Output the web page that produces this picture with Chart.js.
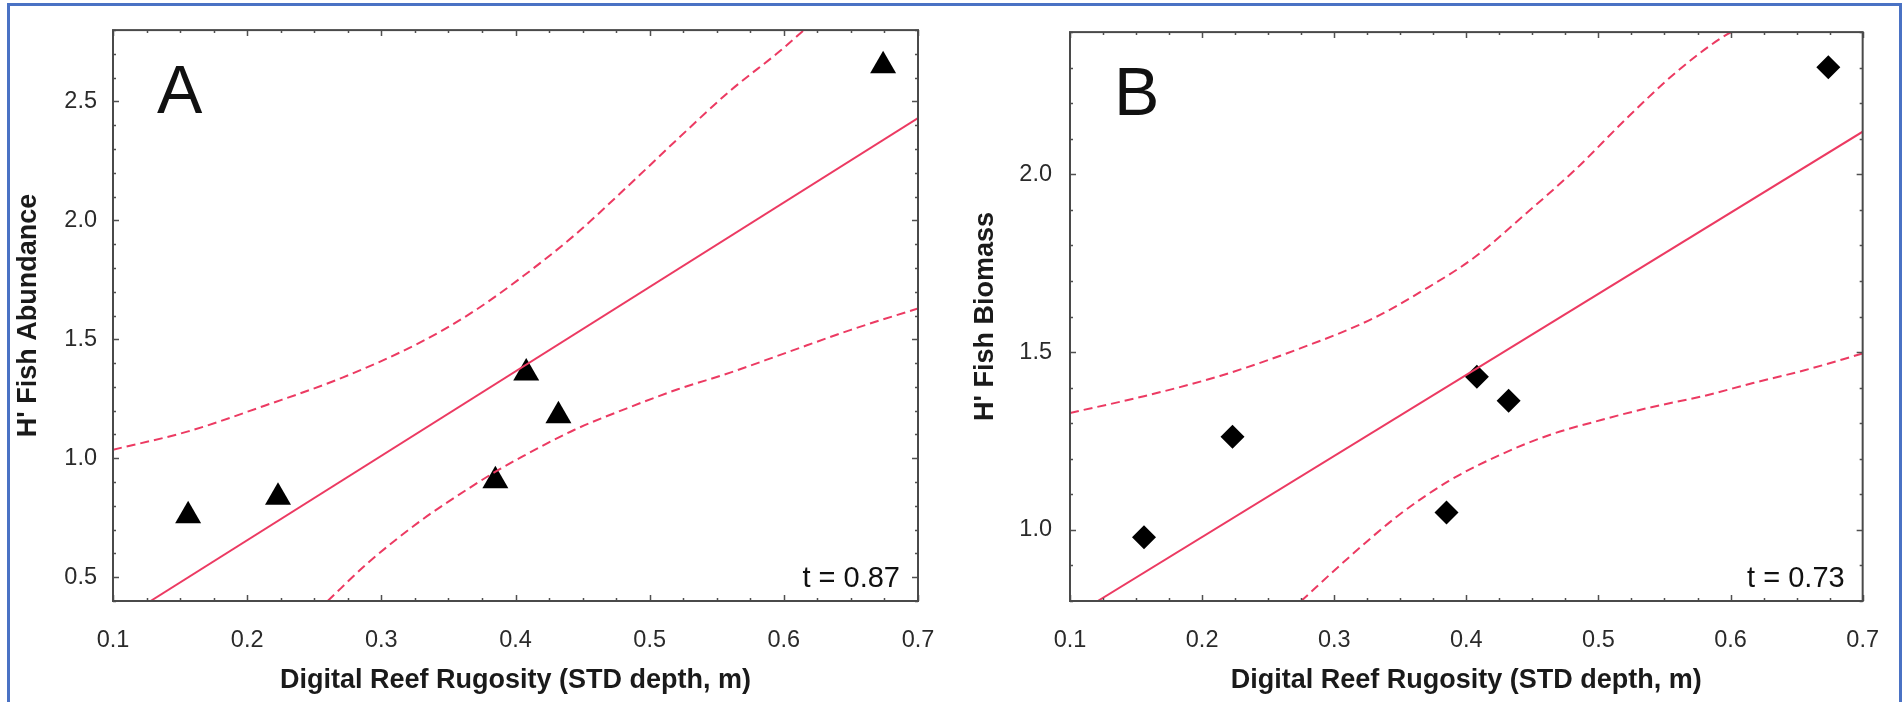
<!DOCTYPE html>
<html>
<head>
<meta charset="utf-8">
<script src="https://cdn.jsdelivr.net/npm/chart.js@4.4.1/dist/chart.umd.min.js"></script>
<style>
  html, body { margin: 0; padding: 0; background: #fff; }
  body { width: 1904px; height: 702px; position: relative; overflow: hidden; }
  #frame { position: absolute; left: 7px; top: 3px; width: 1889px; height: 760px; border: 3px solid #4a72c4; }
  canvas { position: absolute; top: 0; }
  #chartA { left: 0; }
  #chartB { left: 960px; }
</style>
</head>
<body>
<div id="frame"></div>
<canvas id="chartA" width="960" height="702"></canvas>
<canvas id="chartB" width="944" height="702"></canvas>
<script>
// sites: digital reef rugosity (STD depth, m)
const rugosity   = [0.156, 0.223, 0.385, 0.408, 0.432, 0.674];
const abundanceH = [0.758, 0.836, 0.906, 1.358, 1.179, 2.650];
const biomassH   = [0.979, 1.262, 1.049, 1.431, 1.363, 2.301];

// fitted lines
const fitAx = [0.128, 0.7];
const fitAy = [0.4, 2.43];
const fitBx = [0.121, 0.7];
const fitBy = [0.8, 2.12];

// confidence bands
const upperAx = [0.1, 0.156, 0.2135, 0.271, 0.329, 0.367, 0.406, 0.444, 0.483, 0.521, 0.56, 0.598, 0.615];
const upperAy = [1.036, 1.113, 1.222, 1.339, 1.487, 1.611, 1.767, 1.938, 2.14, 2.343, 2.545, 2.716, 2.8];
const lowerAx = [0.26, 0.29, 0.33, 0.367, 0.387, 0.406, 0.444, 0.483, 0.521, 0.56, 0.6, 0.65, 0.7];
const lowerAy = [0.4, 0.56, 0.74, 0.88, 0.95, 1.01, 1.12, 1.21, 1.29, 1.36, 1.44, 1.54, 1.63];
const upperBx = [0.1, 0.156, 0.2135, 0.271, 0.329, 0.367, 0.406, 0.444, 0.483, 0.521, 0.56, 0.598, 0.601];
const upperBy = [1.329, 1.376, 1.433, 1.506, 1.594, 1.673, 1.766, 1.886, 2.015, 2.156, 2.291, 2.395, 2.4];
const lowerBx = [0.275, 0.31, 0.348, 0.3865, 0.425, 0.463, 0.502, 0.54, 0.579, 0.617, 0.656, 0.7];
const lowerBy = [0.8, 0.919, 1.039, 1.137, 1.21, 1.267, 1.309, 1.345, 1.376, 1.413, 1.449, 1.496];

// ticks
const xTicks  = [0.1, 0.2, 0.3, 0.4, 0.5, 0.6, 0.7];
const yTicksA = [0.5, 1.0, 1.5, 2.0, 2.5];
const yTicksB = [1.0, 1.5, 2.0];

const xTitle = 'Digital Reef Rugosity (STD depth, m)';
const RED = '#ec3a62';
const FONT = '"Liberation Sans", Arial, sans-serif';

function pts(xs, ys) { return xs.map((x, i) => ({ x: x, y: ys[i] })); }

function steps(min, max, step) {
    const out = [];
    for (let v = min; v <= max + 1e-9; v += step) out.push(+v.toFixed(4));
    return out;
}

const framePlugin = {
    id: 'frame',
    afterDraw(chart, args, o) {
        const { ctx, chartArea: a } = chart;
        const x = chart.scales.x, y = chart.scales.y;
        ctx.save();
        ctx.strokeStyle = '#505050';
        ctx.lineWidth = 1.5;
        ctx.beginPath();
        const tickX = (vals, len) => vals.forEach(v => {
            const p = Math.round(x.getPixelForValue(v)) + 0.5;
            ctx.moveTo(p, a.bottom); ctx.lineTo(p, a.bottom - len);
            ctx.moveTo(p, a.top); ctx.lineTo(p, a.top + len);
        });
        const tickY = (vals, len) => vals.forEach(v => {
            const p = Math.round(y.getPixelForValue(v)) + 0.5;
            ctx.moveTo(a.left, p); ctx.lineTo(a.left + len, p);
            ctx.moveTo(a.right, p); ctx.lineTo(a.right - len, p);
        });
        tickX(steps(x.min, x.max, 0.025), 3);
        tickY(steps(o.yMinorFrom, y.max, 0.1), 3);
        tickX(xTicks, 6);
        tickY(o.yTicks, 6);
        ctx.stroke();
        ctx.lineWidth = 2;
        ctx.strokeStyle = '#4a4a4a';
        ctx.strokeRect(a.left, a.top, a.right - a.left, a.bottom - a.top);

        ctx.fillStyle = '#111';
        ctx.textBaseline = 'alphabetic';
        ctx.textAlign = 'left';
        ctx.font = '68px ' + FONT;
        ctx.fillText(o.letter, a.left + 44, a.top + 83);
        ctx.textAlign = 'right';
        ctx.font = '29px ' + FONT;
        ctx.fillText(o.stat, a.right - 18, a.bottom - 14);
        ctx.restore();
    }
};

function makeChart(id, yVals, yMin, yMax, yTicks, yTitle, marker, markerSize,
                   fitX, fitY, upX, upY, loX, loY, opts) {
    const dashed = {
        type: 'line', showLine: true, borderColor: RED, borderWidth: 2,
        borderDash: [9, 5], pointRadius: 0, tension: 0.4, cubicInterpolationMode: 'monotone', fill: false
    };
    return new Chart(document.getElementById(id), {
        type: 'scatter',
        data: {
            datasets: [
                Object.assign({ data: pts(upX, upY) }, dashed),
                Object.assign({ data: pts(loX, loY) }, dashed),
                { type: 'line', data: pts(fitX, fitY), showLine: true, borderColor: RED, borderWidth: 2, pointRadius: 0, fill: false },
                { data: pts(rugosity, yVals), pointStyle: marker, pointRadius: markerSize, pointHoverRadius: markerSize,
                  backgroundColor: '#000', borderColor: '#000', borderWidth: 0 }
            ]
        },
        options: {
            responsive: false,
            animation: false,
            events: [],
            layout: { padding: { left: 0, right: opts.padRight, top: 16, bottom: 0 } },
            plugins: {
                legend: { display: false },
                tooltip: { enabled: false },
                frame: { letter: opts.letter, stat: opts.stat, yTicks: yTicks, yMinorFrom: yMin }
            },
            scales: {
                x: {
                    type: 'linear', min: 0.1, max: 0.7,
                    grid: { display: false, drawTicks: false },
                    border: { display: false },
                    afterBuildTicks: s => { s.ticks = xTicks.map(v => ({ value: v })); },
                    afterFit: s => { s.height = 101; },
                    ticks: { padding: 25, color: '#2a2a2a', font: { family: FONT, size: 23.5 },
                             callback: v => v.toFixed(1), maxRotation: 0, autoSkip: false },
                    title: { display: true, text: xTitle, color: '#1a1a1a',
                             font: { family: FONT, size: 27, weight: 'bold' }, padding: { top: 0, bottom: 5 } }
                },
                y: {
                    type: 'linear', min: yMin, max: yMax,
                    grid: { display: false, drawTicks: false },
                    border: { display: false },
                    afterBuildTicks: s => { s.ticks = yTicks.map(v => ({ value: v })); },
                    afterFit: s => { s.width = opts.yWidth; },
                    ticks: { padding: opts.yPad, color: '#2a2a2a', font: { family: FONT, size: 23.5 },
                             callback: v => v.toFixed(1), autoSkip: false },
                    title: { display: true, text: yTitle, color: '#1a1a1a',
                             font: { family: FONT, size: 27, weight: 'bold' }, padding: { top: opts.yTitlePad, bottom: 0 } }
                }
            }
        },
        plugins: [framePlugin]
    });
}

makeChart('chartA', abundanceH, 0.4, 2.8, yTicksA, "H' Fish Abundance", 'triangle', 15,
          fitAx, fitAy, upperAx, upperAy, lowerAx, lowerAy,
          { letter: 'A', stat: 't = 0.87', padRight: 42, yWidth: 113, yPad: 16, yTitlePad: 12 });

makeChart('chartB', biomassH, 0.8, 2.4, yTicksB, "H' Fish Biomass", 'rectRot', 12,
          fitBx, fitBy, upperBx, upperBy, lowerBx, lowerBy,
          { letter: 'B', stat: 't = 0.73', padRight: 24, yWidth: 110, yPad: 18, yTitlePad: 9 });
</script>
</body>
</html>
